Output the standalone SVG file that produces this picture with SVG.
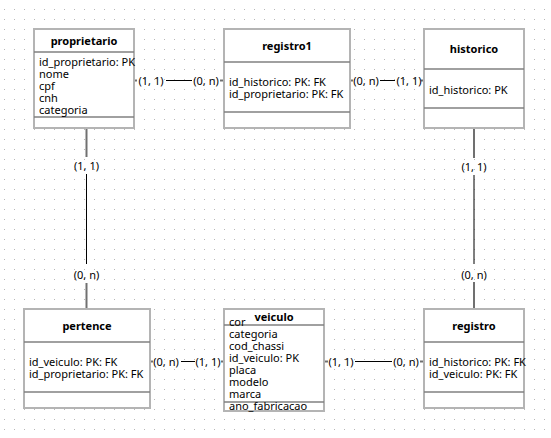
<svg xmlns="http://www.w3.org/2000/svg" width="551" height="438" viewBox="0 0 551 438">
<defs>
<pattern id="grid" x="0" y="0" width="10" height="10" patternUnits="userSpaceOnUse">
<rect x="4" y="9" width="1" height="1" fill="#b8b8b8"/>
</pattern>
<style>
.box{fill:#fff;stroke:#b4b4b4;stroke-width:2}
.sep{stroke:#808080;stroke-width:1.5}
text{font-family:"Segoe UI","Noto Sans","DejaVu Sans",sans-serif;font-size:11px;fill:#000}
.hd{font-weight:bold;text-anchor:middle}
.lb{text-anchor:middle}
.ln{stroke:#000;stroke-width:1;fill:none}
.stub{stroke:#707070;stroke-width:2;fill:none}
</style>
</defs>
<rect width="551" height="438" fill="#fff"/>
<rect width="551" height="438" fill="url(#grid)"/>

<g id="connectors">
<!-- proprietario - registro1 -->
<line class="stub" x1="134" y1="80.5" x2="137" y2="80.5"/>
<line class="ln" x1="166" y1="80.5" x2="192" y2="80.5"/>
<line class="stub" x1="220" y1="80.5" x2="224" y2="80.5"/>
<text class="lb" x="151" y="85">(1, 1)</text>
<text class="lb" x="206" y="85">(0, n)</text>
<!-- registro1 - historico -->
<line class="stub" x1="350" y1="80.5" x2="353" y2="80.5"/>
<line class="ln" x1="380" y1="80.5" x2="395" y2="80.5"/>
<line class="stub" x1="421" y1="80.5" x2="424" y2="80.5"/>
<text class="lb" x="366" y="85">(0, n)</text>
<text class="lb" x="409" y="85">(1, 1)</text>
<!-- proprietario - pertence -->
<line class="stub" x1="86.5" y1="128" x2="86.5" y2="157"/>
<line class="ln" x1="86.5" y1="174" x2="86.5" y2="264"/>
<line class="stub" x1="86.5" y1="283" x2="86.5" y2="309"/>
<text class="lb" x="86.5" y="170">(1, 1)</text>
<text class="lb" x="86.5" y="279">(0, n)</text>
<!-- historico - registro -->
<line class="stub" x1="474" y1="128" x2="474" y2="158"/>
<line class="ln" x1="474" y1="175" x2="474" y2="264"/>
<line class="stub" x1="474" y1="282" x2="474" y2="309"/>
<text class="lb" x="474" y="171">(1, 1)</text>
<text class="lb" x="474" y="279">(0, n)</text>
<!-- pertence - veiculo -->
<line class="stub" x1="150" y1="361.5" x2="153" y2="361.5"/>
<line class="ln" x1="181" y1="361.5" x2="195" y2="361.5"/>
<line class="stub" x1="221" y1="361.5" x2="224" y2="361.5"/>
<text class="lb" x="166" y="366">(0, n)</text>
<text class="lb" x="208" y="366">(1, 1)</text>
<!-- veiculo - registro -->
<line class="stub" x1="324" y1="361.5" x2="328" y2="361.5"/>
<line class="ln" x1="355" y1="361.5" x2="392" y2="361.5"/>
<line class="stub" x1="420" y1="361.5" x2="424" y2="361.5"/>
<text class="lb" x="341" y="366">(1, 1)</text>
<text class="lb" x="406" y="366">(0, n)</text>
</g>

<g id="proprietario">
<rect class="box" x="34" y="29" width="100" height="99"/>
<line class="sep" x1="34" y1="52" x2="134" y2="52"/>
<line class="sep" x1="34" y1="117" x2="134" y2="117"/>
<text class="hd" x="84" y="45">proprietario</text>
<text x="39" y="66">id_proprietario: PK</text>
<text x="39" y="78">nome</text>
<text x="39" y="90">cpf</text>
<text x="39" y="102">cnh</text>
<text x="39" y="114">categoria</text>
</g>

<g id="registro1">
<rect class="box" x="224" y="29" width="126" height="99"/>
<line class="sep" x1="224" y1="62" x2="350" y2="62"/>
<line class="sep" x1="224" y1="112" x2="350" y2="112"/>
<text class="hd" x="287" y="50">registro1</text>
<text x="229" y="86">id_historico: PK: FK</text>
<text x="229" y="98">id_proprietario: PK: FK</text>
</g>

<g id="historico">
<rect class="box" x="424" y="29" width="100" height="99"/>
<line class="sep" x1="424" y1="69" x2="524" y2="69"/>
<line class="sep" x1="424" y1="108" x2="524" y2="108"/>
<text class="hd" x="474" y="53">historico</text>
<text x="429" y="94">id_historico: PK</text>
</g>

<g id="pertence">
<rect class="box" x="24" y="309" width="126" height="99"/>
<line class="sep" x1="24" y1="342" x2="150" y2="342"/>
<line class="sep" x1="24" y1="392" x2="150" y2="392"/>
<text class="hd" x="87" y="330">pertence</text>
<text x="29" y="366">id_veiculo: PK: FK</text>
<text x="29" y="378">id_proprietario: PK: FK</text>
</g>

<g id="veiculo">
<rect class="box" x="224" y="309" width="100" height="102"/>
<line class="sep" x1="224" y1="325" x2="324" y2="325"/>
<line class="sep" x1="224" y1="402" x2="324" y2="402"/>
<text class="hd" x="274" y="321">veiculo</text>
<text x="229" y="326">cor</text>
<text x="229" y="338">categoria</text>
<text x="229" y="350">cod_chassi</text>
<text x="229" y="362">id_veiculo: PK</text>
<text x="229" y="374">placa</text>
<text x="229" y="386">modelo</text>
<text x="229" y="398">marca</text>
<text x="229" y="410">ano_fabricacao</text>
</g>

<g id="registro">
<rect class="box" x="424" y="309" width="100" height="99"/>
<line class="sep" x1="424" y1="342" x2="524" y2="342"/>
<line class="sep" x1="424" y1="392" x2="524" y2="392"/>
<text class="hd" x="474" y="330">registro</text>
<text x="429" y="366">id_historico: PK: FK</text>
<text x="429" y="378">id_veiculo: PK: FK</text>
</g>
</svg>
